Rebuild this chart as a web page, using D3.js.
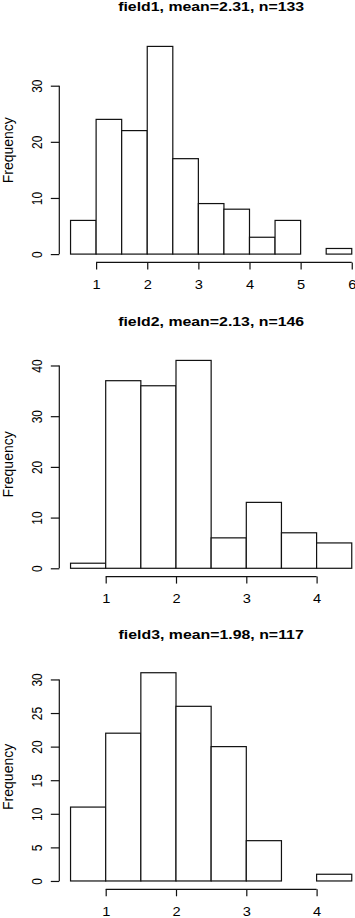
<!DOCTYPE html>
<html>
<head>
<meta charset="utf-8">
<script src="https://cdn.jsdelivr.net/npm/d3@7"></script>
<style>
  body { margin: 0; background: #fff; }
  svg text { font-family: "Liberation Sans", Arial, Helvetica, sans-serif; fill: #000; }
</style>
</head>
<body>
<div id="graph"></div>
<script>
// histogram data
const titles = ["field1, mean=2.31, n=133", "field2, mean=2.13, n=146", "field3, mean=1.98, n=117"];
const breaks1 = [0.5, 1, 1.5, 2, 2.5, 3, 3.5, 4, 4.5, 5, 5.5, 6];
const counts1 = [6, 24, 22, 37, 17, 9, 8, 3, 6, 0, 1];
const breaks2 = [0.5, 1, 1.5, 2, 2.5, 3, 3.5, 4, 4.5];
const counts2 = [1, 37, 36, 41, 6, 13, 7, 5];
const breaks3 = [0.5, 1, 1.5, 2, 2.5, 3, 3.5, 4, 4.5];
const counts3 = [11, 22, 31, 26, 20, 6, 0, 1];
const yTicks1 = [0, 10, 20, 30];
const yTicks2 = [0, 10, 20, 30, 40];
const yTicks3 = [0, 5, 10, 15, 20, 25, 30];
const xTicks1 = [1, 2, 3, 4, 5, 6];
const xTicks2 = [1, 2, 3, 4];
const xTicks3 = [1, 2, 3, 4];

const histPlot = {
  init: function(width, height){
    this.width = width;
    this.height = height;
    this.left = 59.3;
    this.right = 363;
    this.sx = 1.22; // picture is a bit stretched sideways
    this.svg = d3.select("#graph")
                 .append("svg")
                 .attr("width", width)
                 .attr("height", height);
    // vertical place of each panel: title baseline, plot top, plot bottom
    const panels = [
      { title: titles[0], breaks: breaks1, counts: counts1, yTicks: yTicks1, xTicks: xTicks1, titleY: 11, top: 38.1, bottom: 262.4 },
      { title: titles[1], breaks: breaks2, counts: counts2, yTicks: yTicks2, xTicks: xTicks2, titleY: 325.5, top: 352.1, bottom: 576.6 },
      { title: titles[2], breaks: breaks3, counts: counts3, yTicks: yTicks3, xTicks: xTicks3, titleY: 638.5, top: 664.4, bottom: 889.3 }
    ];
    panels.forEach(p => this.drawPanel(p));
  },
  drawPanel: function(p){
    const that = this;
    const g = this.svg.append("g");
    const lo = p.breaks[0], hi = p.breaks[p.breaks.length - 1];
    const ymax = d3.max(p.counts);
    // R pads the range by 4% on each side
    const xScale = d3.scaleLinear()
                     .domain([lo - 0.04 * (hi - lo), hi + 0.04 * (hi - lo)])
                     .range([this.left, this.right]);
    const yScale = d3.scaleLinear()
                     .domain([-0.04 * ymax, 1.04 * ymax])
                     .range([p.bottom, p.top]);

    const bins = p.counts.map((c, i) => ({ x0: p.breaks[i], x1: p.breaks[i + 1], n: c }));
    g.selectAll("rect").data(bins).join("rect")
     .attr("x", d => xScale(d.x0))
     .attr("y", d => yScale(d.n))
     .attr("width", d => xScale(d.x1) - xScale(d.x0))
     .attr("height", d => yScale(0) - yScale(d.n))
     .attr("fill", "#fff")
     .attr("stroke", "#111")
     .attr("stroke-width", 1.2);

    // title
    const midX = (this.left + this.right) / 2;
    g.append("text")
     .attr("text-anchor", "middle")
     .attr("font-weight", "bold")
     .attr("font-size", "13px")
     .attr("transform", `translate(${midX},${p.titleY}) scale(${this.sx},1)`)
     .text(p.title);

    // y axis, line only between first and last tick like R
    const leftAxis = g.append("g").attr("transform", `translate(${this.left},0)`);
    leftAxis.call(d3.axisLeft(yScale).tickValues(p.yTicks).tickSize(8.5).tickFormat(d3.format("d")));
    leftAxis.select(".domain").remove();
    leftAxis.append("line")
            .attr("y1", yScale(p.yTicks[0]))
            .attr("y2", yScale(p.yTicks[p.yTicks.length - 1]));
    leftAxis.selectAll("line").attr("stroke", "#111").attr("stroke-width", 1.2);
    leftAxis.selectAll(".tick text")
            .attr("x", null).attr("dy", null)
            .attr("text-anchor", "middle")
            .attr("font-size", "12px")
            .attr("fill", "#000")
            .attr("transform", `translate(-17.5,0) scale(${this.sx},1) rotate(-90)`);

    // x axis
    const bottomAxis = g.append("g").attr("transform", `translate(0,${p.bottom})`);
    bottomAxis.call(d3.axisBottom(xScale).tickValues(p.xTicks).tickSize(7).tickFormat(d3.format("d")));
    bottomAxis.select(".domain").remove();
    bottomAxis.append("line")
              .attr("x1", xScale(p.xTicks[0]))
              .attr("x2", xScale(p.xTicks[p.xTicks.length - 1]));
    bottomAxis.selectAll("line").attr("stroke", "#111").attr("stroke-width", 1.2);
    bottomAxis.selectAll(".tick text")
              .attr("y", null).attr("dy", null)
              .attr("text-anchor", "middle")
              .attr("font-size", "12px")
              .attr("fill", "#000")
              .attr("transform", `translate(0,26.5) scale(${that.sx},1)`);

    // y label
    g.append("text")
     .attr("text-anchor", "middle")
     .attr("font-size", "14px")
     .attr("transform", `translate(13,${(p.top + p.bottom) / 2}) rotate(-90)`)
     .text("Frequency");
  }
};

histPlot.init(355, 918);
</script>
</body>
</html>
